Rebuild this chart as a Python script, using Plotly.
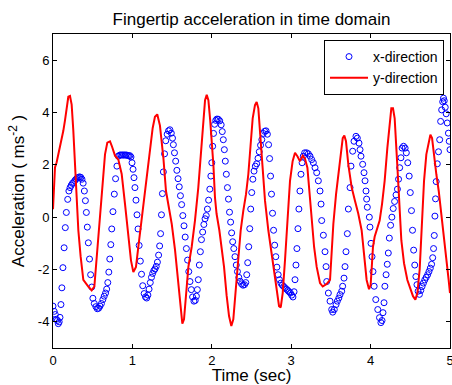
import plotly.graph_objects as go

# ---- data ----
x_dir_time = [
    0.000, 0.015, 0.029, 0.042, 0.055, 0.067, 0.078, 0.088, 0.100, 0.112,
    0.125, 0.140, 0.155, 0.168, 0.185, 0.200, 0.215, 0.230, 0.245, 0.260,
    0.275, 0.290, 0.305, 0.320, 0.335, 0.350, 0.365, 0.380, 0.395, 0.408,
    0.420, 0.432, 0.445, 0.460, 0.474, 0.488, 0.502, 0.520, 0.540, 0.558,
    0.575, 0.592, 0.610, 0.628, 0.645, 0.662, 0.676, 0.690, 0.703, 0.715,
    0.728, 0.740, 0.755, 0.772, 0.788, 0.805, 0.822, 0.840, 0.856, 0.872,
    0.888, 0.904, 0.920, 0.936, 0.952, 0.968, 0.982, 0.995, 1.008, 1.020,
    1.032, 1.045, 1.058, 1.071, 1.085, 1.100, 1.115, 1.130, 1.148, 1.165,
    1.180, 1.195, 1.210, 1.225, 1.240, 1.255, 1.270, 1.285, 1.300, 1.315,
    1.330, 1.343, 1.355, 1.366, 1.378, 1.390, 1.405, 1.420, 1.438, 1.455,
    1.472, 1.490, 1.505, 1.516, 1.530, 1.545, 1.560, 1.575, 1.590, 1.605,
    1.620, 1.635, 1.650, 1.665, 1.680, 1.695, 1.710, 1.725, 1.742, 1.758,
    1.775, 1.792, 1.806, 1.818, 1.830, 1.843, 1.856, 1.870, 1.885, 1.900,
    1.915, 1.930, 1.945, 1.960, 1.975, 1.988, 2.000, 2.011, 2.022, 2.035,
    2.050, 2.065, 2.082, 2.100, 2.118, 2.132, 2.145, 2.158, 2.170, 2.183,
    2.197, 2.210, 2.223, 2.237, 2.250, 2.263, 2.277, 2.292, 2.308, 2.323,
    2.340, 2.357, 2.375, 2.393, 2.412, 2.428, 2.440, 2.452, 2.465, 2.478,
    2.490, 2.503, 2.517, 2.532, 2.548, 2.565, 2.582, 2.598, 2.614, 2.630,
    2.648, 2.665, 2.683, 2.700, 2.715, 2.728, 2.740, 2.752, 2.765, 2.778,
    2.792, 2.806, 2.820, 2.836, 2.852, 2.870, 2.888, 2.905, 2.922, 2.940,
    2.957, 2.973, 2.990, 3.006, 3.022, 3.036, 3.048, 3.060, 3.072, 3.085,
    3.097, 3.110, 3.123, 3.137, 3.152, 3.170, 3.195, 3.216, 3.237, 3.258,
    3.279, 3.300, 3.321, 3.342, 3.363, 3.376, 3.384, 3.405, 3.426, 3.439,
    3.447, 3.468, 3.489, 3.510, 3.523, 3.543, 3.565, 3.581, 3.600, 3.615,
    3.636, 3.648, 3.665, 3.678, 3.690, 3.707, 3.720, 3.741, 3.753, 3.774,
    3.791, 3.816, 3.833, 3.854, 3.867, 3.879, 3.900, 3.917, 3.930, 3.942,
    3.950, 3.959, 3.984, 3.992, 4.005, 4.018, 4.030, 4.045, 4.065, 4.090,
    4.112, 4.130, 4.144, 4.156, 4.169, 4.180, 4.195, 4.210, 4.223, 4.236,
    4.252, 4.268, 4.285, 4.302, 4.320, 4.338, 4.352, 4.366, 4.382, 4.397,
    4.415, 4.435, 4.450, 4.468, 4.486, 4.500, 4.515, 4.528, 4.542, 4.556,
    4.570, 4.584, 4.598, 4.615, 4.632, 4.648, 4.665, 4.682, 4.700, 4.718,
    4.735, 4.752, 4.768, 4.782, 4.793, 4.802, 4.810, 4.818, 4.826, 4.840,
    4.855, 4.870, 4.882, 4.895, 4.908, 4.918, 4.928, 4.940, 4.952, 4.965,
    4.980, 4.990, 5.000,
]
x_dir_accel = [
    -3.40, -3.60, -3.72, -3.90, -3.95, -4.07, -4.00, -3.83, -3.34, -2.70,
    -1.93, -1.17, -0.40, 0.18, 0.68, 1.00, 1.13, 1.22, 1.29, 1.33,
    1.40, 1.45, 1.50, 1.52, 1.54, 1.52, 1.45, 1.30, 1.00, 0.63,
    0.18, -0.38, -0.98, -1.60, -2.20, -2.67, -3.10, -3.30, -3.42, -3.50,
    -3.48, -3.40, -3.30, -3.15, -3.02, -2.90, -2.75, -2.50, -2.10, -1.60,
    -1.05, -0.45, 0.21, 0.88, 1.47, 1.95, 2.33, 2.37, 2.38, 2.37,
    2.38, 2.37, 2.38, 2.36, 2.35, 2.35, 2.30, 2.08, 1.83, 1.51,
    1.13, 0.65, 0.09, -0.45, -1.08, -1.68, -2.18, -2.62, -2.92, -3.05,
    -3.09, -2.98, -2.75, -2.50, -2.30, -2.15, -2.04, -1.98, -1.88, -1.72,
    -1.45, -1.10, -0.63, 0.09, 0.90, 1.73, 2.42, 2.92, 3.17, 3.30,
    3.34, 3.21, 3.02, 2.77, 2.46, 2.14, 1.79, 1.47, 1.16, 0.82,
    0.48, 0.06, -0.33, -0.76, -1.20, -1.64, -2.08, -2.46, -2.77, -3.05,
    -3.21, -3.18, -3.02, -2.77, -2.39, -1.83, -1.32, -0.86, -0.57, -0.28,
    -0.06, 0.06, 0.31, 0.65, 1.07, 1.57, 2.08, 2.71, 3.20, 3.55,
    3.70, 3.75, 3.74, 3.68, 3.53, 3.27, 2.96, 2.58, 2.14, 1.64,
    1.13, 0.69, 0.19, -0.19, -0.60, -0.94, -1.20, -1.51, -1.83, -2.08,
    -2.30, -2.45, -2.55, -2.60, -2.58, -2.50, -2.20, -1.74, -1.13, -0.44,
    0.31, 0.94, 1.45, 1.76, 1.95, 2.04, 2.25, 2.50, 2.75, 2.96,
    3.20, 3.28, 3.30, 3.17, 2.77, 2.24, 1.57, 0.88, 0.15, -0.50,
    -1.07, -1.51, -1.91, -2.20, -2.39, -2.52, -2.60, -2.65, -2.70, -2.75,
    -2.80, -2.85, -2.90, -2.98, -3.05, -2.85, -2.39, -1.83, -1.20, -0.44,
    0.31, 1.00, 1.64, 2.08, 2.33, 2.46, 2.46, 2.42, 2.33, 2.20,
    2.08, 1.89, 1.70, 1.39, 1.00, 0.50, -0.13, -0.69, -1.32, -1.89,
    -2.46, -2.90, -3.21, -3.53, -3.63, -3.53, -3.34, -3.21, -3.09, -2.96,
    -2.83, -2.64, -2.33, -1.89, -1.32, -0.63, 0.31, 1.13, 1.95, 2.52,
    2.90, 3.09, 3.02, 2.83, 2.58, 2.33, 2.02, 1.70, 1.39, 1.00,
    0.69, 0.38, 0.00, -0.38, -1.00, -1.51, -2.08, -2.64, -3.15, -3.53,
    -3.84, -4.03, -3.95, -3.65, -3.27, -2.64, -2.20, -1.80, -1.37, -0.80,
    -0.31, 0.00, 0.33, 0.60, 0.85, 1.07, 1.45, 1.89, 2.27, 2.64,
    2.71, 2.64, 2.46, 2.08, 1.57, 0.94, 0.25, -0.50, -1.26, -1.83,
    -2.27, -2.58, -2.83, -2.95, -2.80, -2.65, -2.52, -2.40, -2.30, -2.20,
    -2.08, -1.95, -1.80, -1.55, -1.20, -0.70, 0.04, 0.70, 1.36, 2.04,
    2.50, 2.96, 3.66, 4.10, 4.41, 4.55, 4.45, 4.20, 3.95, 3.60,
    3.21, 2.90, 2.58,
]

y_dir_time = [
    0.000, 0.010, 0.025, 0.046, 0.070, 0.088, 0.110, 0.130, 0.151, 0.172,
    0.193, 0.214, 0.235, 0.256, 0.290, 0.319, 0.348, 0.382, 0.445, 0.487,
    0.521, 0.550, 0.592, 0.621, 0.655, 0.684, 0.718, 0.743, 0.781, 0.823,
    0.865, 0.907, 0.949, 0.982, 1.012, 1.045, 1.075, 1.104, 1.138, 1.180,
    1.222, 1.255, 1.284, 1.313, 1.347, 1.390, 1.423, 1.465, 1.495, 1.537,
    1.566, 1.591, 1.612, 1.629, 1.650, 1.675, 1.705, 1.747, 1.788, 1.830,
    1.860, 1.885, 1.915, 1.936, 1.957, 1.980, 2.000, 2.020, 2.040, 2.060,
    2.095, 2.124, 2.154, 2.187, 2.217, 2.246, 2.271, 2.305, 2.334, 2.364,
    2.397, 2.431, 2.460, 2.490, 2.515, 2.544, 2.565, 2.586, 2.607, 2.641,
    2.670, 2.712, 2.754, 2.788, 2.817, 2.847, 2.868, 2.893, 2.922, 2.951,
    2.985, 3.018, 3.048, 3.078, 3.111, 3.145, 3.174, 3.204, 3.229, 3.258,
    3.288, 3.321, 3.363, 3.397, 3.447, 3.489, 3.510, 3.531, 3.565, 3.594,
    3.623, 3.649, 3.669, 3.690, 3.720, 3.762, 3.803, 3.845, 3.887, 3.917,
    3.950, 3.980, 4.000, 4.015, 4.030, 4.051, 4.085, 4.114, 4.144, 4.177,
    4.211, 4.240, 4.261, 4.282, 4.303, 4.336, 4.366, 4.387, 4.421, 4.463,
    4.505, 4.534, 4.564, 4.589, 4.618, 4.648, 4.673, 4.702, 4.732, 4.753,
    4.774, 4.799, 4.828, 4.858, 4.891, 4.925, 4.954, 4.983, 5.000,
]
y_dir_accel = [
    0.30, 1.20, 1.90, 2.10, 2.45, 2.60, 3.00, 3.30, 3.70, 4.20,
    4.60, 4.63, 4.30, 3.30, 1.40, -0.50, -1.50, -2.40, -2.65, -2.80,
    -2.65, -1.50, 0.10, 1.40, 2.40, 2.85, 2.90, 2.70, 2.35, 2.20,
    1.65, 0.50, -0.75, -1.65, -2.10, -1.90, -1.13, -0.38, 0.38, 1.50,
    2.65, 3.40, 3.84, 3.93, 3.50, 2.27, 1.00, 0.25, -0.25, -1.26,
    -2.14, -3.00, -3.78, -4.07, -3.90, -2.90, -1.90, -1.13, -0.13, 1.13,
    2.40, 3.50, 4.47, 4.68, 4.47, 3.70, 2.90, 2.00, 0.75, 0.13,
    -0.50, -1.13, -1.90, -3.00, -3.78, -4.16, -3.90, -2.65, -1.50, -0.50,
    0.25, 0.88, 1.64, 2.77, 3.78, 4.28, 4.40, 4.16, 3.27, 1.90,
    0.63, -0.50, -1.39, -2.14, -2.90, -3.40, -3.45, -2.90, -1.64, -0.13,
    1.39, 2.14, 2.46, 2.33, 2.14, 2.35, 2.23, 1.89, 1.00, -0.25,
    -1.13, -1.90, -2.52, -2.65, -2.55, -2.40, -1.39, -0.25, 0.88, 1.64,
    2.52, 3.02, 3.12, 2.90, 2.00, 1.13, 0.63, 0.13, -0.50, -1.39,
    -2.40, -2.75, -2.60, -1.90, -1.13, -0.75, -0.38, -0.13, 0.50, 1.39,
    2.65, 3.65, 4.16, 4.16, 3.78, 2.00, 0.13, -0.88, -1.76, -2.40,
    -2.77, -3.02, -3.15, -2.90, -2.00, -0.13, 1.39, 2.40, 2.83, 3.15,
    3.02, 2.27, 1.64, 1.00, 0.13, -0.63, -1.64, -2.40, -2.90,
]

x_tick_vals = [0, 1, 2, 3, 4, 5]
x_tick_text = ["0", "1", "2", "3", "4", "5"]
y_tick_vals = [-4, -2, 0, 2, 4, 6]
y_tick_text = ["-4", "-2", "0", "2", "4", "6"]

FONT = "Liberation Sans, Arial, sans-serif"

fig = go.Figure()
fig.add_trace(go.Scatter(
    x=x_dir_time, y=x_dir_accel, mode="markers", name="x-direction",
    marker=dict(symbol="circle-open", size=6, color="#0000ff",
                line=dict(width=1, color="#0000ff")),
))
fig.add_trace(go.Scatter(
    x=y_dir_time, y=y_dir_accel, mode="lines", name="y-direction",
    line=dict(color="#ff0000", width=2),
))

axis_common = dict(
    showline=True, linecolor="black", linewidth=1, mirror="ticks",
    ticks="inside", ticklen=4, tickwidth=1, tickcolor="black",
    showgrid=False, zeroline=False, ticklabeloverflow="allow",
    tickfont=dict(family=FONT, size=13, color="black"),
)

fig.update_layout(
    width=452, height=385,
    margin=dict(l=53, r=2, t=34, b=37),
    paper_bgcolor="white", plot_bgcolor="white",
    font=dict(family=FONT, color="black"),
    title=dict(text="Fingertip acceleration in time domain",
               font=dict(family=FONT, size=17, color="black"),
               x=0.5, xref="paper", xanchor="center",
               y=1 - 19 / 385, yref="container", yanchor="middle"),
    xaxis=dict(range=[0, 5], tickvals=x_tick_vals, ticktext=x_tick_text,
               title=dict(text="Time (sec)", standoff=2,
                          font=dict(family=FONT, size=17, color="black")),
               automargin=False, **axis_common),
    yaxis=dict(range=[-5, 7], tickvals=y_tick_vals, ticktext=y_tick_text,
               title=dict(text="Acceleration ( ms<sup>-2</sup> )", standoff=8,
                          font=dict(family=FONT, size=17, color="black")),
               automargin=False, **axis_common),
    legend=dict(x=(444 - 53) / 397, xanchor="right", y=(348 - 40) / 314,
                yanchor="top", bgcolor="white", bordercolor="black",
                borderwidth=1, font=dict(family=FONT, size=14, color="black"),
                tracegroupgap=0, itemwidth=38),
    showlegend=True,
)

fig.write_html(
    "out.html",
    config={"displayModeBar": False},
    post_script="document.body.style.margin='0';document.body.style.overflow='hidden';",
)
